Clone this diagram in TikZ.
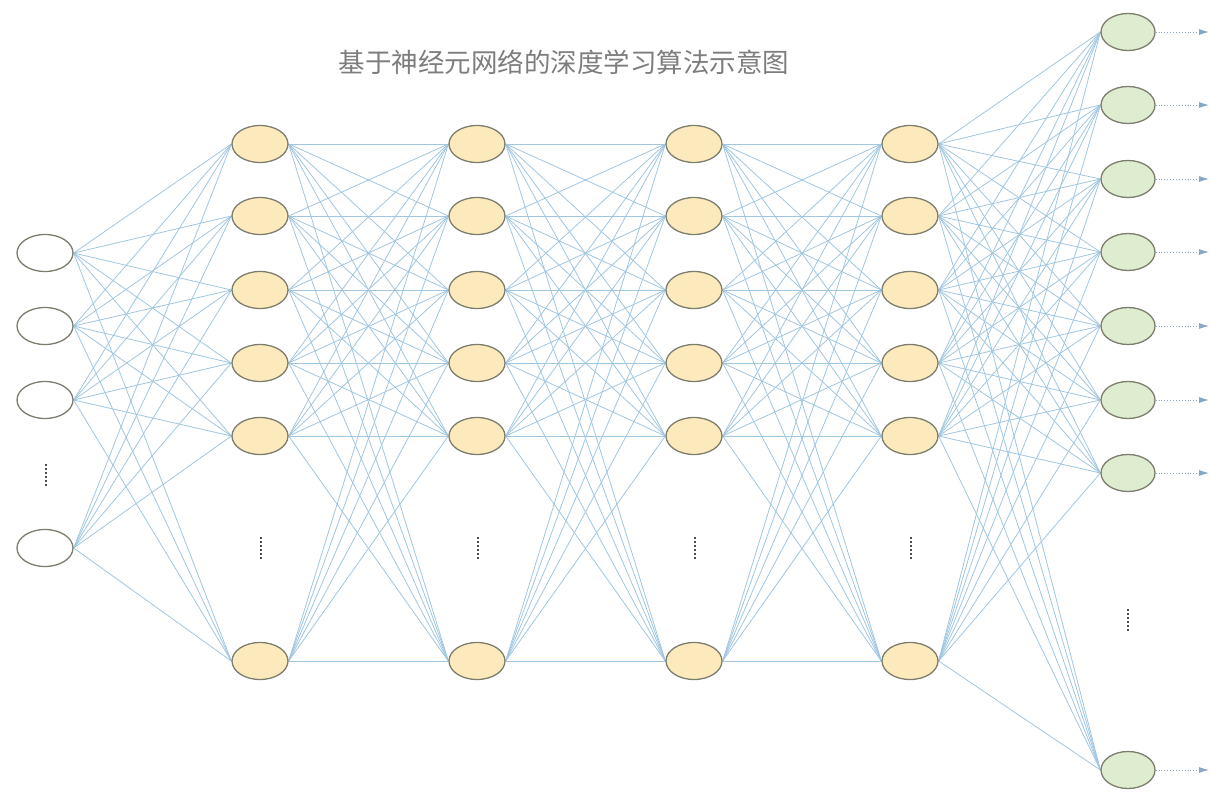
\documentclass[tikz,border=0pt]{standalone}
\usepackage{fontspec}
\newfontfamily\cjk{Noto Sans CJK SC}
\usetikzlibrary{arrows.meta,backgrounds,shapes.geometric}
\definecolor{edgec}{RGB}{160,198,224}
\definecolor{rimc}{RGB}{125,125,110}
\definecolor{hidf}{RGB}{252,234,188}
\definecolor{outf}{RGB}{222,236,208}
\definecolor{titc}{RGB}{125,125,125}
\definecolor{arrc}{RGB}{105,145,180}
\tikzset{
  neuron/.style={ellipse, draw=rimc, line width=1.3pt, minimum width=56pt, minimum height=37pt, inner sep=0pt},
  inneuron/.style={neuron, fill=white},
  hidneuron/.style={neuron, fill=hidf},
  outneuron/.style={neuron, fill=outf, minimum width=54pt},
  conn/.style={draw=edgec, line width=0.8pt},
  outarrow/.style={draw=arrc!80, line width=0.9pt, dotted, -{Latex[length=10pt,width=6pt]}},
  vdots/.style={fill=black!70, inner sep=0pt, minimum width=2.6pt, minimum height=2.4pt}
}
\begin{document}
\begin{tikzpicture}[x=1pt,y=-1pt]
\useasboundingbox (0,0) rectangle (1211,792);
\node[text=titc, font=\cjk\fontsize{26.5}{30}\selectfont] (title) at (564,62) {基于神经元网络的深度学习算法示意图};
% input layer
\foreach \i/\y in {1/253,2/326,3/400,4/548}
  \node[inneuron] (i\i) at (45,\y) {};
% hidden layers
\foreach \l/\x in {1/260,2/477,3/694,4/910}{
  \foreach \j/\y in {1/144,2/216,3/290,4/363,5/436,6/661}
    \node[hidneuron] (h\l-\j) at (\x,\y) {};
}
% output layer
\foreach \k/\y in {1/32,2/105,3/179,4/252,5/326,6/400,7/473,8/770}
  \node[outneuron] (o\k) at (1128,\y) {};
% connections
\begin{scope}[on background layer]
\foreach \i in {1,...,4}
  \foreach \j in {1,...,6}
    \draw[conn] (i\i.east) -- (h1-\j.west);
\foreach \l/\m in {1/2,2/3,3/4}
  \foreach \i in {1,...,6}
    \foreach \j in {1,...,6}
      \draw[conn] (h\l-\i.east) -- (h\m-\j.west);
\foreach \i in {1,...,6}
  \foreach \k in {1,...,8}
    \draw[conn] (h4-\i.east) -- (o\k.west);
\end{scope}
% output arrows
\foreach \k/\y in {1/32,2/105,3/179,4/252,5/326,6/400,7/473,8/770}{
  \coordinate (e\k) at (1209,\y);
  \draw[outarrow] (o\k.east) -- (e\k);
}
% ellipsis dots
\foreach \x/\y in {46/475,261/548,478/548,695/548,911/548,1128/620}
  \foreach \d in {0,...,5}
    \node[vdots] at (\x,\y-10+\d*4) {};
\end{tikzpicture}
\end{document}
